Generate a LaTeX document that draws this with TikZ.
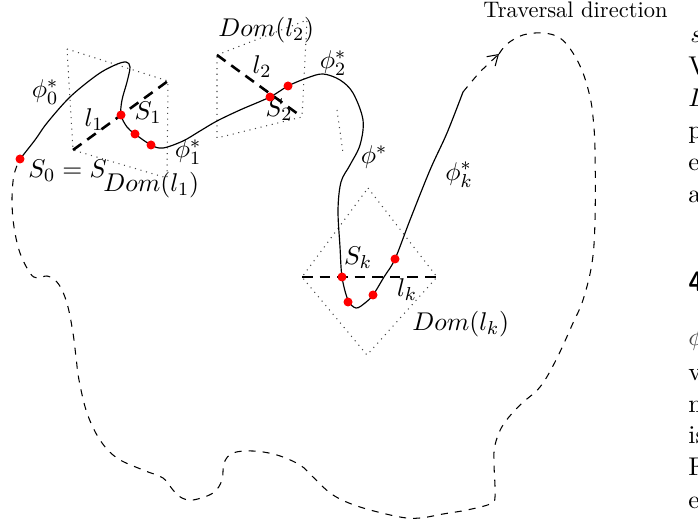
\documentclass[tikz,border=0pt]{standalone}
\usepackage{xcolor}
\usetikzlibrary{arrows.meta, positioning}
\definecolor{ink}{RGB}{0,0,0}
\definecolor{haze}{RGB}{70,70,70}
\definecolor{sample}{RGB}{255,0,0}

\begin{document}
\begin{tikzpicture}[
  x=0.15mm, y=-0.15mm,
  traj/.style={draw=ink, line width=0.5pt},
  tour/.style={draw=ink, line width=0.45pt, dashed},
  cut/.style={draw=ink, line width=1.1pt, dash pattern=on 4.5pt off 3pt},
  dom/.style={draw=haze, line width=0.45pt, dotted},
  smp/.style={circle, fill=sample, minimum size=1.35mm, inner sep=0pt},
  lbl/.style={font=\fontsize{10.95}{13}\selectfont, inner sep=0pt},
  txt/.style={font=\fontsize{9.6}{11}\selectfont, inner sep=0pt},
  col/.style={font=\fontsize{10.95}{13}\selectfont, inner sep=0pt,
              anchor=base west}]
  \useasboundingbox (0,0) rectangle (698,524);
  \coordinate (d1a) at (67,49);
  \coordinate (d1b) at (168,81);
  \coordinate (d1c) at (167,178);
  \coordinate (d1d) at (73,150);
  \coordinate (d2a) at (217,55);
  \coordinate (d2b) at (307,20);
  \coordinate (d2c) at (302,117);
  \coordinate (d2d) at (217,138);
  \coordinate (dka) at (368,188);
  \coordinate (dkb) at (437,277);
  \coordinate (dkc) at (367,355);
  \coordinate (dkd) at (302,277);
  \coordinate (e1) at (337,110);
  \coordinate (e2) at (343,153);
  \draw[dom] (d1a) -- (d1b) -- (d1c) -- (d1d) -- cycle;
  \draw[dom] (d2a) -- (d2b) -- (d2c) -- (d2d) -- cycle;
  \draw[dom] (dka) -- (dkb) -- (dkc) -- (dkd) -- cycle;
  \draw[dom] (e1) -- (e2);
  \node[lbl, anchor=base west] (s0lab) at (28,178) {$S_0 = S$};
  \node[lbl, anchor=base west] (dom1) at (103,192) {$Dom(l_1)$};
  \node[lbl, anchor=base west] (dom2) at (218,37) {$Dom(l_2)$};
  \node[lbl, anchor=base west] (domk) at (412,330) {$Dom(l_k)$};
  \node[lbl] (phi0) at (45,92) {$\phi_0^*$};
  \node[lbl] (phi1) at (188,152) {$\phi_1^*$};
  \node[lbl] (phi2) at (333,63) {$\phi_2^*$};
  \node[lbl] (phis) at (374,157) {$\phi^*$};
  \node[lbl] (phik) at (459,175) {$\phi_k^*$};
  \node[lbl] (l1lab) at (94,120) {$l_1$};
  \node[lbl] (s1lab) at (148,113) {$S_1$};
  \node[lbl] (l2lab) at (262,67) {$l_2$};
  \node[lbl] (s2lab) at (279,110) {$S_2$};
  \node[lbl] (sklab) at (358,258) {$S_k$};
  \node[lbl] (lklab) at (407,290) {$l_k$};
  \node[txt, anchor=base west] (trav) at (483,18) {Traversal direction};
  \draw[cut] (d1d) -- (d1b);
  \draw[cut] (d2a) -- (d2c);
  \draw[cut] (dkd) -- (dkb);
  \draw[traj] plot[smooth, tension=0.55] coordinates {
    (20,159) (35,140) (47,123) (70,97) (97,75) (115,65) (126,62)
    (130,67) (127,82) (122,100) (121,115) (127,127) (135,134)
    (151,145) (163,148) (183,141) (200,131) (217,121) (240,110)
    (270,97) (288,86) (307,78) (323,74) (340,80) (353,93) (363,120)
    (360,145) (350,165) (341,182) (338,210) (340,247) (342,277)
    (348,300) (356,308) (365,303) (373,295) (384,277) (395,259)
    (410,220) (430,170) (447,133) (463,92)};
  \draw[tour, -{Straight Barb[length=1.5mm, width=1.9mm]}]
    plot[smooth] coordinates {(463,92) (480,72) (499,54)};
  \draw[tour] plot[smooth, tension=0.6] coordinates {
    (499,54) (507,44) (523,35) (543,33) (560,38) (573,53) (583,73)
    (590,97) (593,117) (595,150) (595,220) (592,263) (583,300)
    (573,323) (556,360) (540,387) (520,405) (503,425) (495,445)
    (494,463) (495,497) (490,504) (467,510) (443,514) (420,518)
    (400,517) (360,507) (333,495) (313,477) (300,465) (277,455)
    (253,451) (233,453) (224,463) (222,480) (213,493) (193,500)
    (182,498) (173,490) (163,478) (143,470) (117,458) (100,440)
    (87,413) (79,380) (76,357) (73,333) (68,307) (62,290) (55,280)
    (47,276) (37,278) (30,273) (20,253) (14,227) (12,200) (14,175)
    (20,159)};
  \node[smp] (s0) at (20,159) {};
  \node[smp] (s1) at (121,115) {};
  \node[smp] (s1a) at (135,134) {};
  \node[smp] (s1b) at (151,145) {};
  \node[smp] (s2) at (270,97) {};
  \node[smp] (s2a) at (288,86) {};
  \node[smp] (sk) at (342,277) {};
  \node[smp] (ska) at (348,302) {};
  \node[smp] (skb) at (373,295) {};
  \node[smp] (skc) at (395,259) {};
  \node[col] (c1) at (690,43) {$s$};
  \node[col] (c2) at (688,75) {V};
  \node[col] (c3) at (688,107) {$L$};
  \node[col] (c4) at (688,139) {p};
  \node[col] (c5) at (688,171) {e};
  \node[col] (c6) at (688,203) {a};
  \node[col, font=\fontsize{12}{14}\sffamily\bfseries] (c7) at (688,292) {4};
  \node[col, text=haze] (c8) at (688,345) {$\phi$};
  \node[col] (c9) at (688,380) {v};
  \node[col] (c10) at (688,412) {n};
  \node[col] (c11) at (688,443) {is};
  \node[col] (c12) at (688,475) {F};
  \node[col] (c13) at (688,508) {e};
\end{tikzpicture}
\end{document}
